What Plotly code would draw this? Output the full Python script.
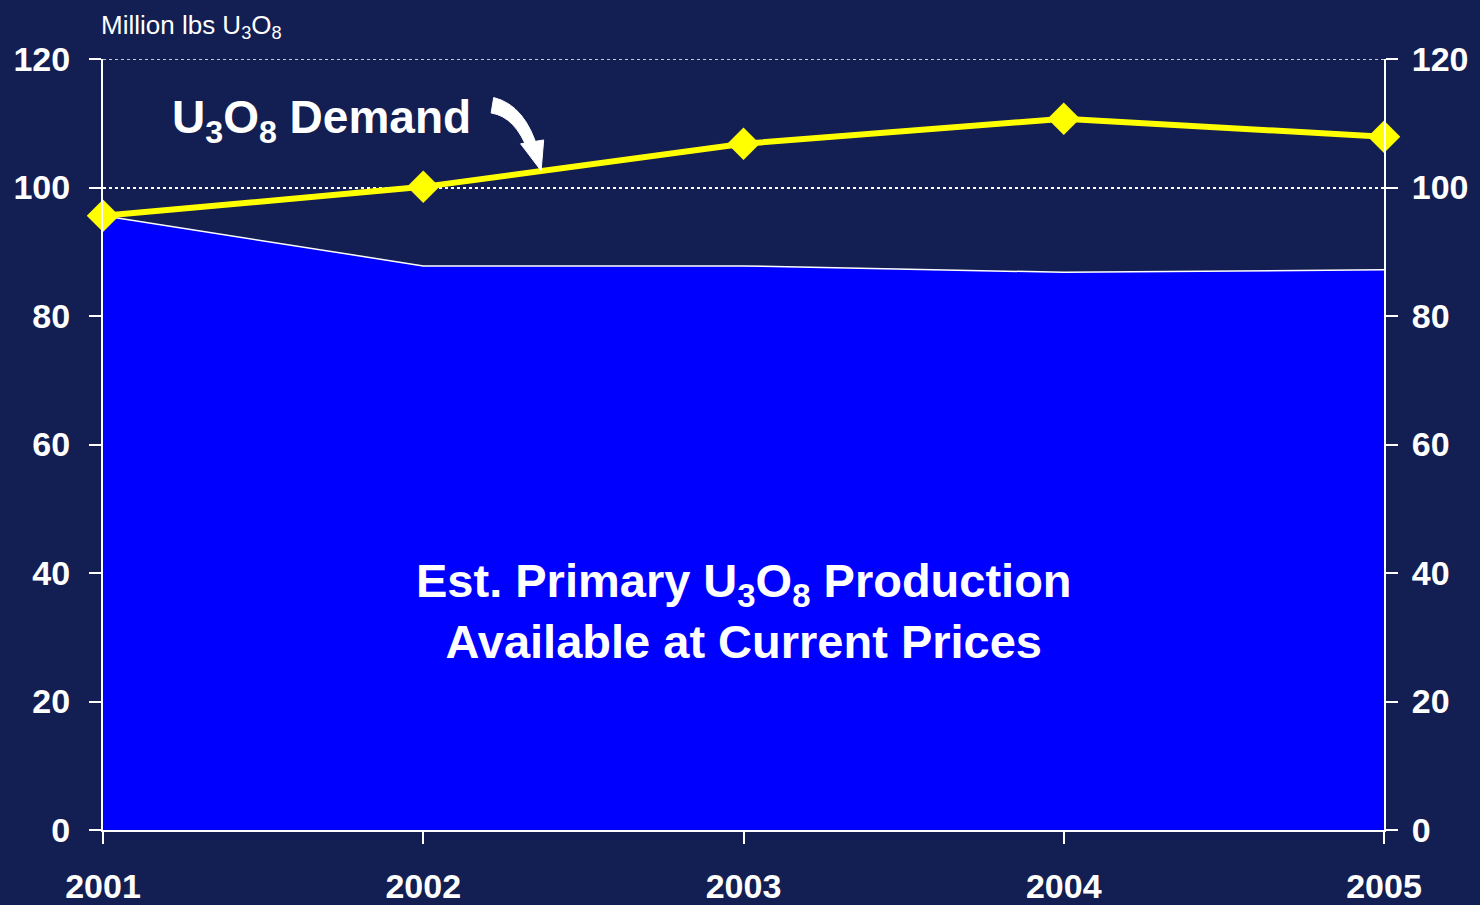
import plotly.graph_objects as go

years = [2001, 2002, 2003, 2004, 2005]
demand = [95.6, 100.1, 106.8, 110.7, 107.9]
production = [95.6, 87.8, 87.8, 86.8, 87.2]
y_ticks = [0, 20, 40, 60, 80, 100, 120]

BG = "#131f52"
FONT = "Liberation Sans, Arial, sans-serif"

fig = go.Figure()

# production area
fig.add_trace(go.Scatter(
    x=years, y=production, mode="lines",
    fill="tozeroy", fillcolor="#0000ff",
    line=dict(color="white", width=1.5),
    hoverinfo="skip", showlegend=False,
))

# demand line
fig.add_trace(go.Scatter(
    x=years, y=demand, mode="lines+markers",
    line=dict(color="#ffff00", width=6),
    marker=dict(symbol="diamond", size=25, color="#ffff00"),
    showlegend=False, cliponaxis=False,
))

# invisible trace to activate the right axis
fig.add_trace(go.Scatter(
    x=years, y=production, yaxis="y2", mode="lines",
    line=dict(width=0), hoverinfo="skip", showlegend=False,
))

tickfont = dict(family=FONT, size=34, color="white", weight="bold")

fig.update_layout(
    autosize=True,
    paper_bgcolor=BG, plot_bgcolor="rgba(0,0,0,0)",
    margin=dict(l=103, r=96, t=59, b=75),
    font=dict(family=FONT, color="white"),
    xaxis=dict(
        range=[2001, 2005], tickvals=years, ticktext=[str(y) for y in years],
        showgrid=False, zeroline=False, automargin=False,
        showline=True, linecolor="white", linewidth=2,
        ticks="outside", ticklen=12, tickwidth=2, tickcolor="white",
        tickfont=tickfont, ticklabelstandoff=13,
    ),
    yaxis=dict(
        range=[0, 120], tickvals=y_ticks, automargin=False,
        showgrid=True, gridcolor="white", gridwidth=1.5, griddash="dot",
        zeroline=False,
        showline=True, linecolor="white", linewidth=2,
        ticks="outside", ticklen=12, tickwidth=2, tickcolor="white",
        tickfont=tickfont, ticklabelstandoff=12,
    ),
    yaxis2=dict(
        range=[0, 120], tickvals=y_ticks, overlaying="y", side="right",
        showgrid=False, zeroline=False, automargin=False,
        showline=True, linecolor="white", linewidth=2,
        ticks="outside", ticklen=12, tickwidth=2, tickcolor="white",
        tickfont=tickfont, ticklabelstandoff=7,
    ),
)

# dashed line along the top of the plot (120 gridline)
fig.add_shape(
    type="line", xref="paper", yref="y", x0=0, x1=1, y0=120, y1=120,
    line=dict(color="white", width=1.5, dash="dot"), layer="below",
)

fig.add_annotation(
    text="Million lbs U<sub>3</sub>O<sub>8</sub>", xref="paper", yref="paper",
    x=0, y=1.0, xanchor="left", yanchor="bottom", yshift=14, xshift=-4,
    showarrow=False, font=dict(family=FONT, size=26, color="white"),
)
fig.add_annotation(
    text="<b>U<sub>3</sub>O<sub>8</sub> Demand</b>", xref="paper", yref="paper",
    x=0.052, y=0.92, xanchor="left", yanchor="middle", showarrow=False,
    font=dict(family=FONT, size=46, color="white"),
)
fig.add_annotation(
    text="<b>Est. Primary U<sub>3</sub>O<sub>8</sub> Production<br>Available at Current Prices</b>",
    xref="paper", yref="paper", x=0.5, y=0.284, xanchor="center", yanchor="middle",
    showarrow=False, font=dict(family=FONT, size=47, color="white"),
)

# curved arrow next to the demand label
fig.add_shape(
    type="path", xref="paper", yref="paper", layer="above",
    path="M 0.305 0.95 Q 0.330 0.94 0.340 0.88 L 0.332 0.88 Q 0.322 0.925 0.303 0.93 Z",
    fillcolor="white", line=dict(color="white", width=1),
)
fig.add_shape(
    type="path", xref="paper", yref="paper", layer="above",
    path="M 0.326 0.89 L 0.344 0.895 L 0.342 0.855 Z",
    fillcolor="white", line=dict(color="white", width=1),
)

fig.write_html(
    "out.html",
    default_width="100vw", default_height="100vh",
    config=dict(displayModeBar=False),
    post_script="document.body.style.margin='0px';"
                "document.body.style.overflow='hidden';"
                "document.body.style.background='" + BG + "';",
)
